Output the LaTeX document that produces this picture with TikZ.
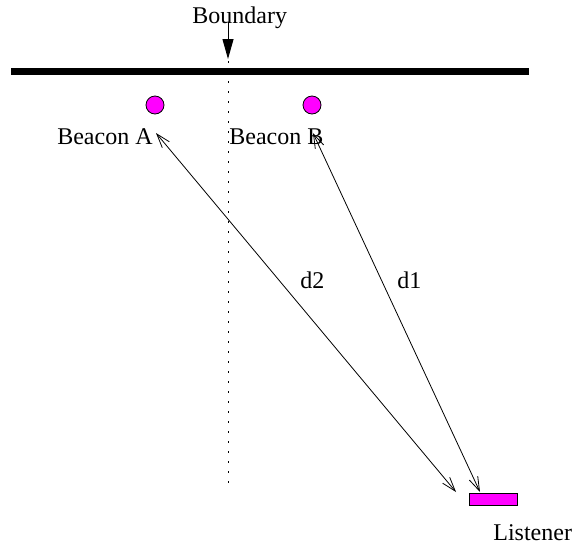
\documentclass[tikz,border=0pt]{standalone}
\usepackage{fontspec}
\setmainfont{Liberation Serif}
\usetikzlibrary{arrows.meta}
\definecolor{beaconmag}{RGB}{255,0,255}
\begin{document}
\begin{tikzpicture}[x=0.5pt,y=-0.5pt,
  beacon/.style={circle,draw,fill=beaconmag,minimum size=9pt,inner sep=0pt,line width=0.4pt},
  lbl/.style={font=\fontsize{12}{14}\selectfont,inner sep=0pt},
  dist/.style={{Straight Barb[length=7pt,width=4.6pt]}-{Straight Barb[length=7pt,width=4.6pt]},line width=0.4pt}]
\useasboundingbox (0,0) rectangle (573,547);

% wall and boundary
\draw[line width=3.3pt] (11,71.5) -- (529,71.5);
\draw[line width=0.5pt,dash pattern=on 1pt off 4pt] (228,61) -- (228,489);
\node[lbl,anchor=base west] (bnd) at (192,23) {Boundary};
\coordinate (bndtip) at (228,59);
\draw[line width=0.5pt,-{Triangle[length=10pt,width=5.5pt]}] (228,22) -- (bndtip);

% beacons
\node[beacon] (A) at (155,105) {};
\node[beacon] (B) at (312,105) {};
\node[lbl,anchor=base east] (labA) at (153,144) {Beacon A};
\node[lbl,anchor=base west] (labB) at (229,144) {Beacon B};

% listener
\node[draw,fill=beaconmag,minimum width=24pt,minimum height=6pt,inner sep=0pt,line width=0.4pt] (L) at (493,499) {};
\node[lbl,anchor=base west] (labL) at (493,540) {Listener};

\coordinate (tipA) at (156,133);
\coordinate (tipB) at (313,133);
\coordinate (endA) at (456,492);
\coordinate (endB) at (480,492);
\draw[dist] (tipA) -- (endA);
\draw[dist] (tipB) -- (endB);

\node[lbl,anchor=base west] (d2) at (300,288) {d2};
\node[lbl,anchor=base west] (d1) at (397,288) {d1};
\end{tikzpicture}
\end{document}
